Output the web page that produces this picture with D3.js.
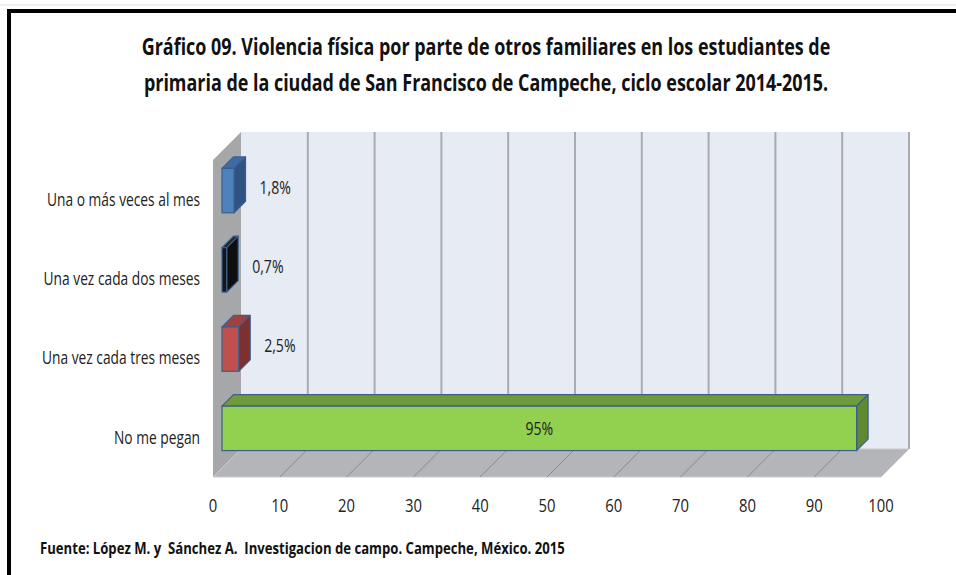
<!DOCTYPE html>
<html>
<head>
<meta charset="utf-8">
<script src="https://cdn.jsdelivr.net/npm/d3@7"></script>
<style>
  body { margin: 0; background: #fff; }
  svg { display: block; }
  text { white-space: pre; }
</style>
</head>
<body>
<div id="chart"></div>
<script>
// chart data
var categories = ["Una o más veces al mes", "Una vez cada dos meses", "Una vez cada tres meses", "No me pegan"];
var values = [1.8, 0.7, 2.5, 95];
var valueLabels = ["1,8%", "0,7%", "2,5%", "95%"];
var tickValues = [0, 10, 20, 30, 40, 50, 60, 70, 80, 90, 100];
var titleLines = [
  "Gráfico 09. Violencia física por parte de otros familiares en los estudiantes de",
  "primaria de la ciudad de San Francisco de Campeche, ciclo escolar 2014-2015."
];
var sourceText = "Fuente: López M. y  Sánchez A.  Investigacion de campo. Campeche, México. 2015";

// bar colours: front, top, side
var barColors = [
  ["#4f81bd", "#3e6ba6", "#2f5482"],
  ["#161616", "#262626", "#0e0e0e"],
  ["#c0504d", "#a3403d", "#7d302e"],
  ["#92d050", "#6e9c3b", "#5f8a30"]
];

var svgWidth = 956, svgHeight = 575;
var fontFamily = "'Open Sans', 'Noto Sans', sans-serif";

var svg = d3.select("#chart").append("svg")
  .attr("width", svgWidth)
  .attr("height", svgHeight);

// front plane of the 3D box
var plot = { left: 213, top: 160, width: 668, bottom: 477 };
var depth = 28;          // wall depth offset (px, up-right)
var d0 = 9, d1 = 20.5;   // bar depth range

var x = d3.scaleLinear().domain([0, 100]).range([plot.left, plot.left + plot.width]);
var y = d3.scaleBand().domain(categories).range([plot.top, plot.bottom])
  .paddingInner(0.44).paddingOuter(0.22);
var yBand = d3.scaleBand().domain(categories).range([plot.top, plot.bottom]);

function pts(arr) { return arr.map(function(p) { return p.join(","); }).join(" "); }

// squeeze text horizontally like the narrow original font
function narrow(sel, k) {
  sel.each(function() {
    var w = this.getComputedTextLength();
    d3.select(this).attr("textLength", w * k).attr("lengthAdjust", "spacingAndGlyphs");
  });
}

// frame
svg.append("line").attr("x1", 0).attr("x2", svgWidth).attr("y1", 5).attr("y2", 5)
  .attr("stroke", "#e2e2e2").attr("stroke-width", 1);
svg.append("line").attr("x1", 7).attr("x2", svgWidth).attr("y1", 11).attr("y2", 11)
  .attr("stroke", "#000").attr("stroke-width", 4);
svg.append("line").attr("x1", 9).attr("x2", 9).attr("y1", 9).attr("y2", svgHeight)
  .attr("stroke", "#000").attr("stroke-width", 4);

// title (scaled horizontally with a transform)
svg.selectAll(".title").data(titleLines).enter().append("text")
  .attr("class", "title")
  .attr("transform", function(d, i) { return "translate(486," + (55 + i * 36) + ") scale(0.78,1)"; })
  .attr("text-anchor", "middle")
  .attr("font-family", fontFamily)
  .attr("font-weight", "bold")
  .attr("font-size", "23px")
  .attr("fill", "#111")
  .text(function(d) { return d; });

var box = svg.append("g");

// back wall
var bx0 = x(0) + depth, bx1 = x(100) + depth, by0 = plot.top - depth, by1 = plot.bottom - depth;
box.append("rect")
  .attr("x", bx0).attr("y", by0)
  .attr("width", bx1 - bx0).attr("height", by1 - by0)
  .attr("fill", "#e6ebf4");

// back wall gridlines
box.selectAll(".grid").data(tickValues.slice(1)).enter().append("line")
  .attr("class", "grid")
  .attr("x1", function(d) { return x(d) + depth; })
  .attr("x2", function(d) { return x(d) + depth; })
  .attr("y1", by0).attr("y2", by1)
  .attr("stroke", "#a9abae").attr("stroke-width", 2);

// left wall
box.append("polygon")
  .attr("points", pts([[x(0), plot.top], [x(0) + depth, by0], [x(0) + depth, by1], [x(0), plot.bottom]]))
  .attr("fill", "#a6a7a9");

// floor
box.append("polygon")
  .attr("points", pts([[x(0), plot.bottom], [x(0) + depth, by1], [x(100) + depth, by1], [x(100), plot.bottom]]))
  .attr("fill", "#b3b5b9")
  .attr("stroke", "#c9cbce").attr("stroke-width", 1);

box.selectAll(".floorgrid").data(tickValues.slice(1, -1)).enter().append("line")
  .attr("class", "floorgrid")
  .attr("x1", function(d) { return x(d); })
  .attr("y1", plot.bottom)
  .attr("x2", function(d) { return x(d) + depth; })
  .attr("y2", by1)
  .attr("stroke", "#8a8c90").attr("stroke-width", 1);

// bars
var bars = box.selectAll(".bar").data(values).enter().append("g").attr("class", "bar");
var outline = "#3b5f8c";

bars.each(function(v, i) {
  var g = d3.select(this);
  var cat = categories[i];
  var y0 = y(cat), y1 = y(cat) + y.bandwidth();
  var xa = x(0), xb = x(v);
  // top face
  g.append("polygon")
    .attr("points", pts([[xa + d0, y0 - d0], [xb + d0, y0 - d0], [xb + d1, y0 - d1], [xa + d1, y0 - d1]]))
    .attr("fill", barColors[i][1]).attr("stroke", outline).attr("stroke-width", 1.2)
    .attr("stroke-linejoin", "round");
  // side face
  g.append("polygon")
    .attr("points", pts([[xb + d0, y0 - d0], [xb + d1, y0 - d1], [xb + d1, y1 - d1], [xb + d0, y1 - d0]]))
    .attr("fill", barColors[i][2]).attr("stroke", outline).attr("stroke-width", 1.2)
    .attr("stroke-linejoin", "round");
  // front face
  g.append("rect")
    .attr("x", xa + d0).attr("y", y0 - d0)
    .attr("width", xb - xa).attr("height", y1 - y0)
    .attr("fill", barColors[i][0]).attr("stroke", outline).attr("stroke-width", 1.2);
});

// value labels
var dMid = (d0 + d1) / 2;
box.selectAll(".vlabel").data(values).enter().append("text")
  .attr("class", "vlabel")
  .attr("x", function(d) { return d > 50 ? (x(0) + x(d)) / 2 + d0 : x(d) + d1 + 14; })
  .attr("y", function(d, i) {
    var c = y(categories[i]) + y.bandwidth() / 2;
    return d > 50 ? c - d0 : c - dMid + 2;
  })
  .attr("dy", "0.35em")
  .attr("text-anchor", function(d) { return d > 50 ? "middle" : "start"; })
  .attr("font-family", fontFamily)
  .attr("font-size", "19px")
  .attr("fill", "#222")
  .text(function(d, i) { return valueLabels[i]; })
  .call(narrow, 0.74);

// category labels (front plane)
svg.selectAll(".clabel").data(categories).enter().append("text")
  .attr("class", "clabel")
  .attr("x", 200)
  .attr("y", function(d) { return yBand(d) + yBand.bandwidth() / 2; })
  .attr("dy", "0.35em")
  .attr("text-anchor", "end")
  .attr("font-family", fontFamily)
  .attr("font-size", "18px")
  .attr("fill", "#222")
  .text(function(d) { return d; })
  .call(narrow, 0.765);

// x axis tick labels
svg.selectAll(".tick").data(tickValues).enter().append("text")
  .attr("class", "tick")
  .attr("x", function(d) { return x(d); })
  .attr("y", 505)
  .attr("dy", "0.35em")
  .attr("text-anchor", "middle")
  .attr("font-family", fontFamily)
  .attr("font-size", "19px")
  .attr("fill", "#222")
  .text(function(d) { return d; })
  .call(narrow, 0.78);

// source note
svg.append("text")
  .attr("x", 40)
  .attr("y", 548)
  .attr("dy", "0.35em")
  .attr("font-family", fontFamily)
  .attr("font-weight", "bold")
  .attr("font-size", "16px")
  .attr("fill", "#111")
  .text(sourceText)
  .call(narrow, 0.82);
</script>
</body>
</html>
